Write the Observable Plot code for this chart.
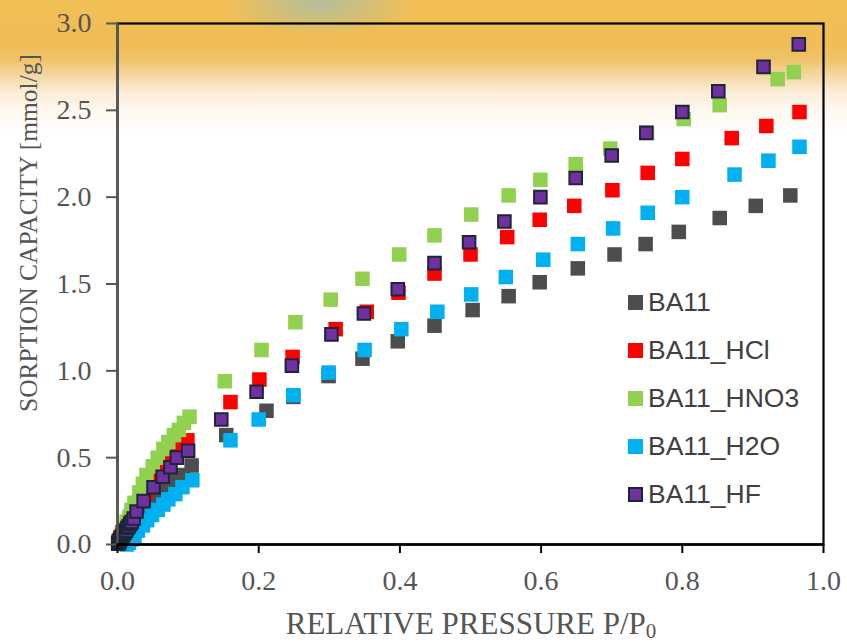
<!DOCTYPE html>
<html>
<head>
<meta charset="utf-8">
<script src="https://cdn.jsdelivr.net/npm/d3@7"></script>
<script src="https://cdn.jsdelivr.net/npm/@observablehq/plot@0.6"></script>
<style>
  html, body { margin: 0; padding: 0; }
  body {
    width: 847px; height: 642px; position: relative; overflow: hidden;
    background:
      radial-gradient(ellipse 95px 32px at 320px 4px, rgba(168,190,168,0.85), rgba(168,190,168,0)),
      linear-gradient(180deg, #f1c055 0px, #efbc56 42px, #efc368 60px, #f5dbab 78px, #fbefdc 94px, #fef8ef 110px, #ffffff 134px);
  }
  #chart { position: absolute; left: 0; top: 0; }
  #legend { position: absolute; left: 628px; top: 279px; font-family: "Liberation Sans", Arial, sans-serif; font-size: 26.5px; color: #404040; }
  #legend .item { display: flex; align-items: center; height: 47.8px; }
  #legend .sw { width: 15px; height: 15px; margin-right: 5px; box-sizing: border-box; }
</style>
</head>
<body>
<div id="chart"></div>
<div id="legend"></div>
<script>
// ---- data ----
const seriesNames = ["BA11", "BA11_HCl", "BA11_HNO3", "BA11_H2O", "BA11_HF"];
const seriesColors = ["#4d4d4d", "#ff0000", "#92d050", "#00b0f0", "#7030a0"];

const p_BA11 = [0.001,0.002,0.003,0.004,0.006,0.008,0.010,0.013,0.016,0.020,0.025,0.030,0.040,0.050,0.060,0.070,0.080,0.093,0.105,
  0.154,0.211,0.249,0.299,0.347,0.397,0.449,0.503,0.554,0.598,0.652,0.704,0.748,0.795,0.853,0.904,0.953];
const q_BA11 = [0.01,0.02,0.025,0.03,0.04,0.05,0.06,0.07,0.09,0.11,0.13,0.16,0.21,0.25,0.29,0.33,0.37,0.40,0.455,
  0.63,0.77,0.85,0.97,1.07,1.17,1.26,1.35,1.43,1.51,1.59,1.67,1.73,1.80,1.88,1.95,2.01];

const p_HCl = [0.002,0.004,0.007,0.010,0.015,0.020,0.025,0.030,0.040,0.050,0.060,0.076,0.085,0.092,0.099,
  0.160,0.201,0.248,0.309,0.353,0.398,0.449,0.500,0.552,0.598,0.647,0.701,0.751,0.800,0.870,0.919,0.966];
const q_HCl = [0.02,0.04,0.07,0.09,0.13,0.17,0.20,0.24,0.30,0.36,0.42,0.51,0.55,0.57,0.60,
  0.82,0.95,1.08,1.24,1.34,1.45,1.56,1.67,1.77,1.87,1.95,2.04,2.14,2.22,2.34,2.41,2.49];

const p_HNO3 = [0.002,0.004,0.006,0.009,0.013,0.017,0.020,0.024,0.031,0.036,0.041,0.050,0.057,0.065,0.072,0.080,0.087,0.094,0.102,
  0.152,0.204,0.252,0.302,0.347,0.399,0.449,0.501,0.554,0.599,0.649,0.698,0.750,0.802,0.853,0.935,0.958];
const q_HNO3 = [0.01,0.03,0.06,0.09,0.13,0.16,0.20,0.24,0.30,0.35,0.40,0.45,0.50,0.55,0.59,0.63,0.66,0.70,0.736,
  0.94,1.12,1.28,1.41,1.53,1.67,1.78,1.90,2.01,2.10,2.19,2.28,2.37,2.45,2.53,2.68,2.72];

const p_H2O = [0.013,0.016,0.020,0.024,0.029,0.036,0.042,0.049,0.057,0.065,0.072,0.082,0.092,0.106,
  0.160,0.200,0.249,0.299,0.350,0.402,0.453,0.501,0.550,0.603,0.652,0.702,0.751,0.800,0.874,0.922,0.966];
const q_H2O = [0.00,0.01,0.03,0.05,0.08,0.11,0.14,0.17,0.20,0.23,0.26,0.29,0.33,0.37,
  0.60,0.72,0.86,0.99,1.12,1.24,1.34,1.44,1.54,1.64,1.73,1.82,1.91,2.00,2.13,2.21,2.29];

const p_HF = [0.001,0.002,0.003,0.004,0.005,0.006,0.007,0.008,0.009,0.010,0.012,0.014,0.016,0.018,0.020,0.023,0.027,0.037,0.051,0.064,0.075,0.084,0.100,
  0.147,0.197,0.247,0.303,0.349,0.397,0.449,0.498,0.548,0.599,0.649,0.700,0.749,0.800,0.851,0.915,0.965];
const q_HF = [0.005,0.01,0.02,0.03,0.035,0.045,0.05,0.06,0.065,0.07,0.08,0.095,0.105,0.12,0.13,0.15,0.19,0.25,0.33,0.39,0.445,0.50,0.54,
  0.72,0.88,1.03,1.21,1.33,1.47,1.62,1.74,1.86,2.00,2.11,2.24,2.37,2.49,2.61,2.75,2.88];

const xTicks = [0, 0.2, 0.4, 0.6, 0.8, 1.0];
const yTicks = [0, 0.5, 1.0, 1.5, 2.0, 2.5, 3.0];
const xLabel = "RELATIVE PRESSURE P/P";
const xLabelSub = "0";
const yLabel = "SORPTION CAPACITY [mmol/g]";

// ---- build table ----
const cols = [[p_BA11,q_BA11],[p_HCl,q_HCl],[p_HNO3,q_HNO3],[p_H2O,q_H2O],[p_HF,q_HF]];
const tables = cols.map(([p,q], i) => p.map((v, j) => ({series: seriesNames[i], p: v, q: q[j]})));

const W = 847, H = 642, mL = 117, mR = 24, mT = 23, mB = 98;

const dotMarks = tables.map((t, i) => i === 4
  ? Plot.dot(t, {x: "p", y: "q", symbol: "square", r: 7.1, fill: seriesColors[i], stroke: "#1d2538", strokeWidth: 2})
  : Plot.dot(t, {x: "p", y: "q", symbol: "square", r: 8.2, fill: seriesColors[i]}));

const chart = Plot.plot({
  width: W, height: H,
  marginLeft: mL, marginRight: mR, marginTop: mT, marginBottom: mB,
  style: {background: "transparent", fontFamily: "'Liberation Serif', 'Times New Roman', serif", fontSize: "28px", color: "#555"},
  x: {domain: [0, 1]},
  y: {domain: [0, 3]},
  marks: [
    ...dotMarks,
    Plot.axisY({ticks: yTicks, tickFormat: d3.format(".1f"), tickSize: 11, tickPadding: 15, stroke: "#595959", fill: "#555", label: null, strokeWidth: 2}),
    Plot.axisX({ticks: xTicks, tickFormat: d3.format(".1f"), tickSize: 9, tickPadding: 17, stroke: "#000", fill: "#555", label: null, strokeWidth: 2}),
    Plot.frame({stroke: "#000", strokeWidth: 2.2}),
    Plot.ruleX([0], {stroke: "#595959", strokeWidth: 2.5}),
    Plot.ruleY([0], {stroke: "#000", strokeWidth: 2.5})
  ]
});
document.getElementById("chart").appendChild(chart);

// axis titles as real SVG text
const svg = d3.select(chart);
const xt = svg.append("text")
  .attr("x", mL + (W - mL - mR) / 2 + 1).attr("y", H - 8)
  .attr("text-anchor", "middle")
  .attr("fill", "#555")
  .style("font-family", "'Liberation Serif', 'Times New Roman', serif")
  .style("font-size", "31px");
xt.append("tspan").text(xLabel);
xt.append("tspan").attr("dy", "0.18em").style("font-size", "21px").text(xLabelSub);

svg.append("text")
  .attr("transform", `translate(${mL - 80},${mT + 210}) rotate(-90)`)
  .attr("text-anchor", "middle")
  .attr("fill", "#555")
  .style("font-family", "'Liberation Serif', 'Times New Roman', serif")
  .style("font-size", "25.5px")
  .text(yLabel);

// legend
const legend = d3.select("#legend");
seriesNames.forEach((name, i) => {
  const item = legend.append("div").attr("class", "item");
  item.append("div").attr("class", "sw")
    .style("background", seriesColors[i])
    .style("border", i === 4 ? "2px solid #1d2538" : "none");
  item.append("span").text(name);
});
</script>
</body>
</html>
